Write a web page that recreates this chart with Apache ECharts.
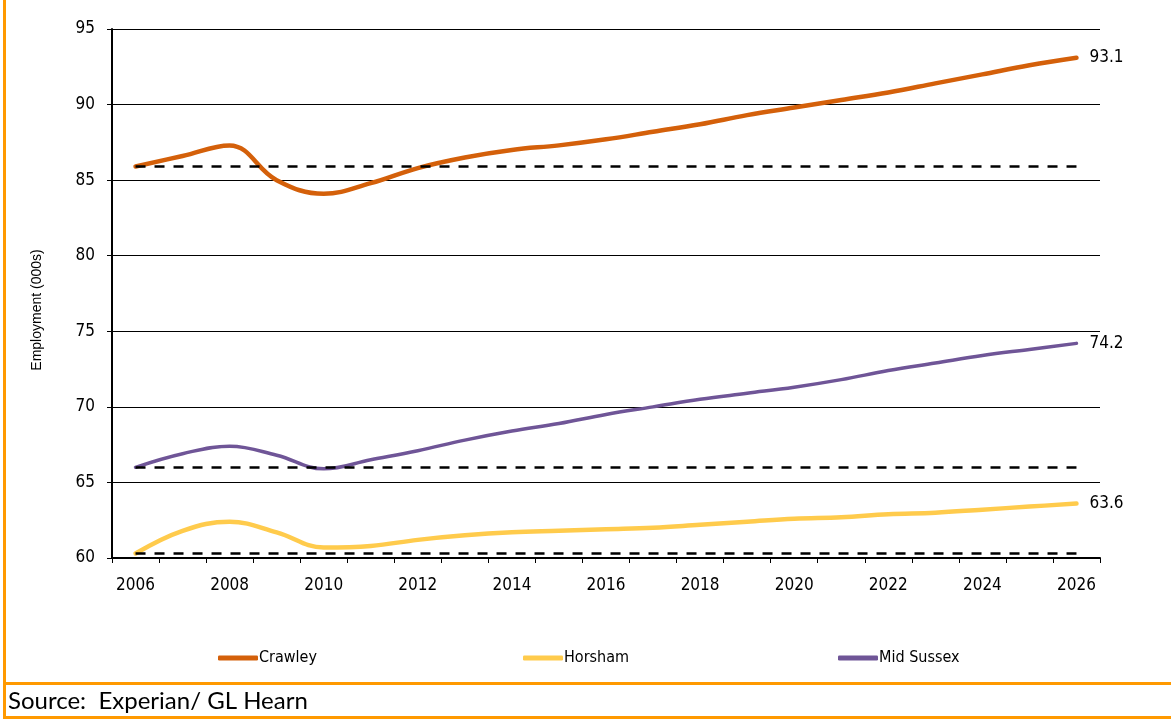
<!DOCTYPE html>
<html>
<head>
<meta charset="utf-8">
<script src="https://cdn.jsdelivr.net/npm/echarts@6/dist/echarts.min.js"></script>
<style>
html,body{margin:0;padding:0;background:#fff;}
#chart{width:1171px;height:719px;}
</style>
</head>
<body>
<div id="chart"></div>
<script>
const years = ['2006','2007','2008','2009','2010','2011','2012','2013','2014','2015','2016','2017','2018','2019','2020','2021','2022','2023','2024','2025','2026'];
const crawley = [85.9, 86.6, 87.3, 85.0, 84.1, 84.8, 85.8, 86.5, 87.0, 87.3, 87.7, 88.2, 88.7, 89.3, 89.8, 90.3, 90.8, 91.4, 92.0, 92.6, 93.1];
const horsham = [60.3, 61.8, 62.4, 61.7, 60.7, 60.8, 61.2, 61.5, 61.7, 61.8, 61.9, 62.0, 62.2, 62.4, 62.6, 62.7, 62.9, 63.0, 63.2, 63.4, 63.6];
const midSussex = [66.0, 66.9, 67.4, 66.8, 65.9, 66.5, 67.1, 67.8, 68.4, 68.9, 69.5, 70.0, 70.5, 70.9, 71.3, 71.8, 72.4, 72.9, 73.4, 73.8, 74.2];
const seriesNames = ['Crawley', 'Horsham', 'Mid Sussex'];
const colors = ['#D4600A', '#FFCB4C', '#6F5597'];
const yTicks = {min: 60, max: 95, interval: 5};
const yAxisTitle = 'Employment (000s)';
const sourceText = 'Source:  Experian/ GL Hearn';

const chart = echarts.init(document.getElementById('chart'), null, {renderer: 'canvas'});
const tickFont = '"DejaVu Sans Condensed", "DejaVu Sans", sans-serif';

function mkSeries(name, data, color, width) {
  return {
    name: name,
    type: 'line',
    data: data,
    smooth: 0.4,
    symbol: 'none',
    lineStyle: {color: color, width: width, cap: 'round'},
    itemStyle: {color: color},
    endLabel: {
      show: true,
      formatter: p => p.value.toFixed(1),
      color: '#000',
      fontFamily: tickFont,
      fontSize: 17,
      distance: 13
    },
    markLine: {
      silent: true,
      symbol: 'none',
      z: 10,
      label: {show: false},
      lineStyle: {color: '#000', type: [10, 9], width: 2.5},
      data: [[{coord: [years[0], data[0]]}, {coord: [years[years.length - 1], data[0]]}]]
    },
    animation: false
  };
}

function mkLegend(name, left) {
  return {
    data: [name],
    left: left,
    top: 650,
    icon: 'roundRect',
    itemWidth: 40,
    itemHeight: 5,
    itemGap: 0,
    padding: 0,
    textStyle: {fontFamily: tickFont, fontSize: 16, color: '#000', padding: [0, 0, 0, -4]}
  };
}

const option = {
  backgroundColor: '#fff',
  animation: false,
  color: colors,
  grid: {left: 112, right: 71, top: 29, bottom: 161, containLabel: false},
  legend: [mkLegend('Crawley', 218), mkLegend('Horsham', 523), mkLegend('Mid Sussex', 838)],
  xAxis: {
    type: 'category',
    data: years,
    boundaryGap: true,
    axisLine: {lineStyle: {color: '#000', width: 2}},
    axisTick: {show: true, interval: 0, length: 5, lineStyle: {color: '#000', width: 1}},
    axisLabel: {interval: 1, margin: 19, color: '#000', fontFamily: tickFont, fontSize: 17},
    splitLine: {show: false}
  },
  yAxis: {
    type: 'value',
    min: yTicks.min,
    max: yTicks.max,
    interval: yTicks.interval,
    axisLine: {show: true, lineStyle: {color: '#000', width: 2}},
    axisTick: {show: true, length: 5, lineStyle: {color: '#000', width: 1}},
    axisLabel: {margin: 17, color: '#000', fontFamily: tickFont, fontSize: 17},
    splitLine: {show: true, lineStyle: {color: '#000', width: 1}}
  },
  series: [
    mkSeries(seriesNames[0], crawley, colors[0], 4.5),
    mkSeries(seriesNames[1], horsham, colors[1], 4.5),
    mkSeries(seriesNames[2], midSussex, colors[2], 3.5)
  ],
  graphic: [
    {type: 'rect', left: 3, top: 0, shape: {width: 3, height: 719}, style: {fill: '#FF9900'}, silent: true},
    {type: 'rect', left: 3, top: 682, shape: {width: 1168, height: 3}, style: {fill: '#FF9900'}, silent: true},
    {type: 'rect', left: 3, top: 716, shape: {width: 1168, height: 3}, style: {fill: '#FF9900'}, silent: true},
    {type: 'text', x: 37, y: 310, rotation: Math.PI / 2,
      style: {text: yAxisTitle, fill: '#000', font: '14px "Liberation Sans", Arial, sans-serif', textAlign: 'center', textVerticalAlign: 'middle'}},
    {type: 'text', x: 8, y: 701,
      style: {text: sourceText, fill: '#000', font: '24px Lato, "Open Sans", sans-serif', textAlign: 'left', textVerticalAlign: 'middle'}}
  ]
};
chart.setOption(option);
</script>
</body>
</html>
